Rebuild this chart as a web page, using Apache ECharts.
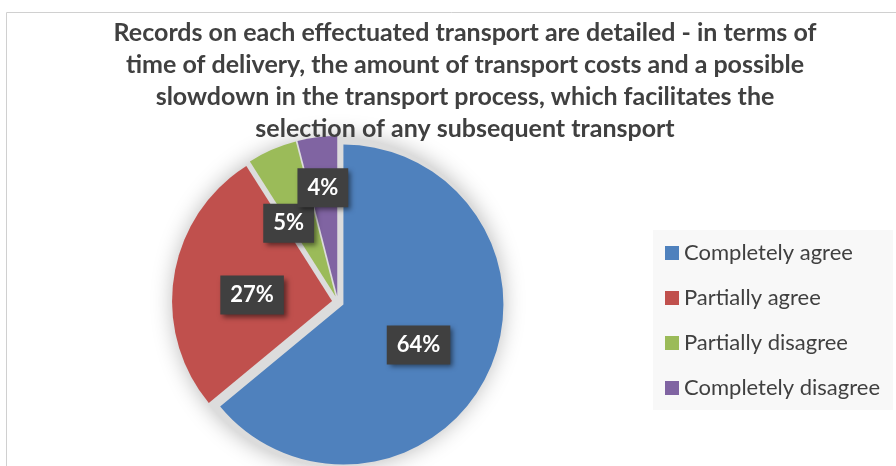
<!DOCTYPE html>
<html>
<head>
<meta charset="utf-8">
<script src="https://cdn.jsdelivr.net/npm/echarts@6/dist/echarts.min.js"></script>
<style>
  html, body { margin: 0; padding: 0; background: #fff; }
  #chart { width: 896px; height: 466px; }
</style>
</head>
<body>
<div id="chart"></div>
<script>
// answers and their shares (%)
const categories = ['Completely agree', 'Partially agree', 'Partially disagree', 'Completely disagree']
const shares = [64, 27, 5, 4]
const colors = ['#4f81bd', '#c0504d', '#9bbb59', '#8064a2']

const titleText = 'Records on each effectuated transport are detailed - in terms of\n' +
  'time of delivery, the amount of transport costs and a possible\n' +
  'slowdown in the transport process, which facilitates the\n' +
  'selection of any subsequent transport'

const pieCenter = [338, 302]
// small nudges so the labels sit like the original
const labelNudge = [[0, 5], [2, 7], [-14, 3], [-4, -26]]

const chart = echarts.init(document.getElementById('chart'))

chart.setOption({
  animation: false,
  title: {
    text: titleText,
    left: 460,
    top: 12,
    textAlign: 'center',
    textStyle: {
      fontFamily: 'Lato',
      fontWeight: 'bold',
      fontSize: 25,
      lineHeight: 32,
      color: '#404040'
    }
  },
  graphic: [
    {
      type: 'rect',
      shape: { x: 6.5, y: 12.5, width: 900, height: 470 },
      style: { fill: 'none', stroke: '#d0d0d0', lineWidth: 1 },
      silent: true,
      z: -10
    },
    {
      type: 'rect',
      shape: { x: 653, y: 230, width: 240, height: 180 },
      style: { fill: '#f8f8f8' },
      silent: true,
      z: -5
    }
  ],
  legend: {
    orient: 'vertical',
    left: 660,
    top: 237,
    data: categories,
    icon: 'rect',
    itemWidth: 14,
    itemHeight: 14,
    itemGap: 23,
    textStyle: {
      fontFamily: 'Lato',
      fontSize: 22,
      lineHeight: 22,
      color: '#404040'
    }
  },
  series: [
    {
      // gray backing disk with soft shadow
      type: 'pie',
      center: pieCenter,
      radius: 165,
      silent: true,
      label: { show: false },
      labelLine: { show: false },
      emphasis: { disabled: true },
      itemStyle: {
        color: '#dcdcdc',
        shadowBlur: 22,
        shadowColor: 'rgba(0,0,0,0.28)'
      },
      data: [{ value: 1, name: '' }],
      z: 1
    },
    {
      type: 'pie',
      center: pieCenter,
      radius: 160,
      startAngle: 90,
      clockwise: true,
      selectedMode: 'multiple',
      selectedOffset: 6,
      emphasis: { scale: false },
      z: 2,
      label: {
        show: true,
        position: 'inside',
        formatter: '{c}%',
        fontFamily: 'Lato',
        fontWeight: 'bold',
        fontSize: 22,
        color: '#ffffff',
        backgroundColor: '#404040',
        padding: [9, 10, 8, 10],
        shadowBlur: 5,
        shadowColor: 'rgba(0,0,0,0.5)',
        shadowOffsetX: 3,
        shadowOffsetY: 3
      },
      labelLine: { show: false },
      labelLayout: function (params) {
        const n = labelNudge[params.dataIndex] || [0, 0]
        return { dx: n[0], dy: n[1] }
      },
      data: categories.map((name, i) => ({
        name: name,
        value: shares[i],
        selected: true,
        itemStyle: { color: colors[i] }
      }))
    }
  ]
})
</script>
</body>
</html>
